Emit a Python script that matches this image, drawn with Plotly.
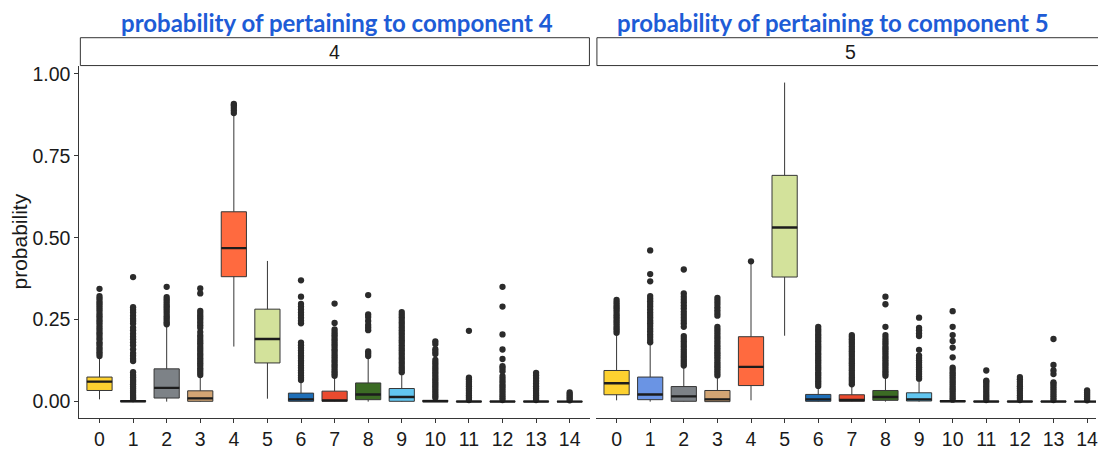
import plotly.graph_objects as go

categories = list(range(15))
tick_labels = [str(c) for c in categories]
y_tick_vals = [0.0, 0.25, 0.5, 0.75, 1.0]
y_tick_text = ["0.00", "0.25", "0.50", "0.75", "1.00"]
box_colors = ["#FDD130", "#6A94E4", "#7D8287", "#D3A574", "#FF6A3F",
              "#D3E29B", "#1F6FB8", "#EB4B2F", "#3B6B24", "#62C6F0",
              "#8C564B", "#9467BD", "#E377C2", "#17BECF", "#BCBD22"]

titles = ["probability of pertaining to component 4",
          "probability of pertaining to component 5"]
strip_labels = ["4", "5"]

# ---- panel "4": probability of pertaining to component 4 ----
c4_lower = [0.007, 0.0, 0.0, 0.0, 0.168, 0.009, 0.0, 0.0, 0.0, 0.0, 0.0, 0.0, 0.0, 0.0, 0.0]
c4_q1 = [0.034, 0.0, 0.011, 0.001, 0.381, 0.118, 0.001, 0.001, 0.006, 0.001, 0.0, 0.0, 0.0, 0.0, 0.0]
c4_median = [0.061, 0.001, 0.042, 0.010, 0.468, 0.191, 0.007, 0.004, 0.022, 0.014, 0.001, 0.0, 0.0, 0.0, 0.0]
c4_q3 = [0.075, 0.003, 0.100, 0.033, 0.579, 0.282, 0.026, 0.032, 0.057, 0.040, 0.004, 0.002, 0.002, 0.002, 0.001]
c4_upper = [0.136, 0.007, 0.232, 0.077, 0.872, 0.429, 0.062, 0.075, 0.133, 0.086, 0.010, 0.004, 0.004, 0.004, 0.003]
c4_outliers = [
    [0.139, 0.146, 0.152, 0.160, 0.167, 0.175, 0.181, 0.190, 0.197, 0.205, 0.211, 0.219, 0.226, 0.234,
     0.241, 0.248, 0.256, 0.263, 0.270, 0.279, 0.286, 0.293, 0.300, 0.307, 0.315, 0.322, 0.344],
    [0.008, 0.014, 0.020, 0.027, 0.033, 0.040, 0.046, 0.053, 0.060, 0.066, 0.074, 0.081, 0.090,
     0.124, 0.131, 0.140, 0.148, 0.160, 0.172, 0.181, 0.190, 0.198, 0.207, 0.218, 0.226, 0.238,
     0.246, 0.253, 0.262, 0.272, 0.280, 0.288, 0.380],
    [0.236, 0.242, 0.249, 0.256, 0.262, 0.270, 0.277, 0.284, 0.291, 0.298, 0.305, 0.312, 0.319, 0.350],
    [0.081, 0.088, 0.095, 0.102, 0.110, 0.117, 0.125, 0.132, 0.140, 0.147, 0.155, 0.162, 0.170, 0.178,
     0.186, 0.194, 0.202, 0.212, 0.225, 0.233, 0.241, 0.249, 0.256, 0.263, 0.270, 0.277, 0.330, 0.345],
    [0.880, 0.888, 0.896, 0.903, 0.908],
    [],
    [0.066, 0.073, 0.080, 0.088, 0.095, 0.103, 0.110, 0.118, 0.125, 0.133, 0.140, 0.148, 0.156, 0.164,
     0.172, 0.180, 0.239, 0.247, 0.256, 0.264, 0.272, 0.281, 0.290, 0.298, 0.320, 0.370],
    [0.079, 0.086, 0.093, 0.100, 0.108, 0.115, 0.123, 0.130, 0.138, 0.145, 0.153, 0.160, 0.168, 0.175,
     0.183, 0.190, 0.198, 0.205, 0.212, 0.220, 0.240, 0.299],
    [0.139, 0.146, 0.153, 0.218, 0.226, 0.234, 0.246, 0.258, 0.266, 0.325],
    [0.090, 0.097, 0.104, 0.112, 0.119, 0.127, 0.134, 0.142, 0.149, 0.157, 0.164, 0.172, 0.180, 0.187,
     0.195, 0.203, 0.210, 0.218, 0.226, 0.234, 0.241, 0.249, 0.257, 0.265, 0.273],
    [0.012, 0.019, 0.026, 0.033, 0.040, 0.047, 0.054, 0.061, 0.068, 0.075, 0.082, 0.090, 0.097, 0.104,
     0.112, 0.119, 0.127, 0.145, 0.152, 0.160, 0.176, 0.184],
    [0.005, 0.012, 0.019, 0.026, 0.033, 0.040, 0.047, 0.054, 0.061, 0.068, 0.073, 0.216],
    [0.005, 0.012, 0.019, 0.026, 0.033, 0.040, 0.047, 0.054, 0.062, 0.070, 0.078, 0.093, 0.101, 0.108,
     0.130, 0.159, 0.205, 0.290, 0.350],
    [0.005, 0.012, 0.019, 0.026, 0.033, 0.040, 0.047, 0.055, 0.063, 0.072, 0.080, 0.088],
    [0.004, 0.010, 0.016, 0.022, 0.028],
]

# ---- panel "5": probability of pertaining to component 5 ----
c5_lower = [0.004, 0.0, 0.0, 0.0, 0.004, 0.201, 0.0, 0.0, 0.0, 0.0, 0.0, 0.0, 0.0, 0.0, 0.0]
c5_q1 = [0.021, 0.006, 0.001, 0.0, 0.049, 0.380, 0.001, 0.001, 0.004, 0.002, 0.0, 0.0, 0.0, 0.0, 0.0]
c5_median = [0.056, 0.022, 0.016, 0.007, 0.106, 0.531, 0.007, 0.005, 0.014, 0.007, 0.001, 0.0, 0.0, 0.0, 0.0]
c5_q3 = [0.095, 0.075, 0.046, 0.034, 0.198, 0.690, 0.022, 0.021, 0.034, 0.027, 0.003, 0.002, 0.002, 0.002, 0.001]
c5_upper = [0.205, 0.175, 0.105, 0.075, 0.420, 0.973, 0.044, 0.049, 0.075, 0.066, 0.005, 0.004, 0.004, 0.004, 0.003]
c5_outliers = [
    [0.210, 0.217, 0.224, 0.231, 0.238, 0.245, 0.252, 0.259, 0.266, 0.274, 0.281, 0.288, 0.295, 0.302, 0.310],
    [0.181, 0.188, 0.197, 0.205, 0.214, 0.222, 0.231, 0.239, 0.247, 0.256, 0.264, 0.272, 0.281, 0.290,
     0.298, 0.306, 0.314, 0.322, 0.367, 0.389, 0.461],
    [0.110, 0.117, 0.124, 0.131, 0.138, 0.145, 0.152, 0.160, 0.168, 0.176, 0.184, 0.192, 0.200, 0.228,
     0.238, 0.247, 0.256, 0.265, 0.274, 0.284, 0.293, 0.302, 0.311, 0.320, 0.330, 0.403],
    [0.080, 0.087, 0.094, 0.101, 0.108, 0.115, 0.122, 0.130, 0.137, 0.144, 0.151, 0.158, 0.165, 0.172,
     0.180, 0.188, 0.196, 0.204, 0.212, 0.220, 0.228, 0.262, 0.270, 0.279, 0.288, 0.298, 0.307, 0.316],
    [0.428],
    [],
    [0.048, 0.055, 0.062, 0.069, 0.076, 0.083, 0.090, 0.098, 0.105, 0.112, 0.119, 0.126, 0.133, 0.140,
     0.147, 0.155, 0.162, 0.169, 0.176, 0.184, 0.191, 0.198, 0.205, 0.213, 0.220, 0.228],
    [0.053, 0.060, 0.067, 0.074, 0.081, 0.088, 0.096, 0.103, 0.110, 0.117, 0.124, 0.131, 0.139, 0.146,
     0.154, 0.161, 0.168, 0.176, 0.183, 0.190, 0.197, 0.203],
    [0.079, 0.086, 0.093, 0.100, 0.107, 0.114, 0.121, 0.128, 0.135, 0.142, 0.149, 0.156, 0.163, 0.170,
     0.178, 0.186, 0.194, 0.203, 0.228, 0.297, 0.320],
    [0.070, 0.077, 0.084, 0.091, 0.098, 0.105, 0.112, 0.119, 0.126, 0.133, 0.140, 0.158, 0.200, 0.208,
     0.218, 0.225, 0.256],
    [0.006, 0.013, 0.020, 0.027, 0.034, 0.041, 0.048, 0.055, 0.062, 0.069, 0.076, 0.083, 0.090, 0.097,
     0.104, 0.135, 0.165, 0.185, 0.203, 0.228, 0.276],
    [0.005, 0.012, 0.019, 0.026, 0.033, 0.040, 0.047, 0.054, 0.061, 0.064, 0.095],
    [0.005, 0.012, 0.019, 0.026, 0.033, 0.040, 0.047, 0.054, 0.061, 0.068, 0.075],
    [0.005, 0.012, 0.019, 0.026, 0.033, 0.040, 0.047, 0.054, 0.059, 0.084, 0.095, 0.112, 0.191],
    [0.004, 0.010, 0.016, 0.022, 0.028, 0.034],
]

W, H = 1098, 450
LINE = "#363636"
TICK_FONT = dict(family="Liberation Sans, Arial, sans-serif", size=19.5, color="#1a1a1a")

fig = go.Figure()

panels = [
    (c4_lower, c4_q1, c4_median, c4_q3, c4_upper, c4_outliers, "x", "y"),
    (c5_lower, c5_q1, c5_median, c5_q3, c5_upper, c5_outliers, "x2", "y2"),
]
BOX_W = 0.75
for lo, q1, med, q3, hi, outl, xa, ya in panels:
    for i in categories:
        fig.add_trace(go.Box(
            x=[i], q1=[q1[i]], median=[med[i]], q3=[q3[i]],
            lowerfence=[lo[i]], upperfence=[hi[i]],
            fillcolor=box_colors[i], line=dict(color=LINE, width=1),
            width=BOX_W, whiskerwidth=0, boxpoints=False,
            xaxis=xa, yaxis=ya, showlegend=False, hoverinfo="skip"))
    ox, oy = [], []
    for i in categories:
        ox += [i] * len(outl[i])
        oy += outl[i]
    fig.add_trace(go.Scatter(
        x=ox, y=oy, mode="markers",
        marker=dict(color="#2b2b2b", size=6.3, line=dict(width=0)),
        xaxis=xa, yaxis=ya, showlegend=False, hoverinfo="skip"))
    mx, my = [], []
    for i in categories:
        mx += [i - BOX_W / 2, i + BOX_W / 2, None]
        my += [med[i], med[i], None]
    fig.add_trace(go.Scatter(
        x=mx, y=my, mode="lines", line=dict(color="#1c1c1c", width=2.4),
        xaxis=xa, yaxis=ya, showlegend=False, hoverinfo="skip"))

y_dom = [1 - 424 / H, 1 - 64 / H]
y_rng = [-0.0486, 1.0248]
common_x = dict(tickvals=categories, ticktext=tick_labels, showline=True, linecolor=LINE,
                linewidth=1, ticks="outside", ticklen=4, tickcolor=LINE, tickfont=TICK_FONT,
                showgrid=False, zeroline=False, fixedrange=True)

fig.update_layout(
    width=W, height=H, autosize=False,
    margin=dict(l=0, r=0, t=0, b=0, pad=0),
    paper_bgcolor="white", plot_bgcolor="white",
    xaxis=dict(domain=[79.5 / W, 590.9 / W], range=[-0.6, 14.6], anchor="y", **common_x),
    xaxis2=dict(domain=[597.5 / W, 1.0], range=[-0.6, 14.265], anchor="y2",
                ticklabeloverflow="allow", **common_x),
    yaxis=dict(domain=y_dom, range=y_rng, anchor="x", tickvals=y_tick_vals, ticktext=y_tick_text,
               showline=True, linecolor=LINE, linewidth=1, ticks="outside", ticklen=4,
               tickcolor=LINE, tickfont=TICK_FONT, showgrid=False, zeroline=False),
    yaxis2=dict(domain=y_dom, matches="y", anchor="x2", showline=False, showticklabels=False,
                ticks="", showgrid=False, zeroline=False),
)

# facet strips
strip_y0, strip_y1 = 1 - 64 / H, 1 - 35.5 / H
strips = [(80.5, 590.5), (598.0, 1120.0)]
for (sx0, sx1), lab in zip(strips, strip_labels):
    fig.add_shape(type="rect", xref="paper", yref="paper", x0=sx0 / W, x1=sx1 / W,
                  y0=strip_y0, y1=strip_y1, line=dict(color="#333333", width=1),
                  fillcolor="white", layer="above")
    cx = (sx0 + min(sx1, 1107)) / 2
    fig.add_annotation(x=cx / W, y=(strip_y0 + strip_y1) / 2, xref="paper", yref="paper",
                       text=lab, showarrow=False, xanchor="center", yanchor="middle",
                       font=dict(family="Liberation Sans, Arial, sans-serif", size=19.5, color="#1a1a1a"))

# panel titles
for cx, t in zip([337.5, 835.0], titles):
    fig.add_annotation(x=cx / W, y=1 - 20 / H, xref="paper", yref="paper", text=t,
                       showarrow=False, xanchor="center", yanchor="middle",
                       font=dict(family="Lato, sans-serif", size=24, color="#1E5CD6", weight="bold"))

# y-axis title
fig.add_annotation(x=20 / W, y=1 - 244 / H, xref="paper", yref="paper", text="probability",
                   textangle=-90, showarrow=False, xanchor="center", yanchor="middle",
                   font=dict(family="Liberation Sans, Arial, sans-serif", size=21, color="#1a1a1a"))

fig.write_html("out.html")
